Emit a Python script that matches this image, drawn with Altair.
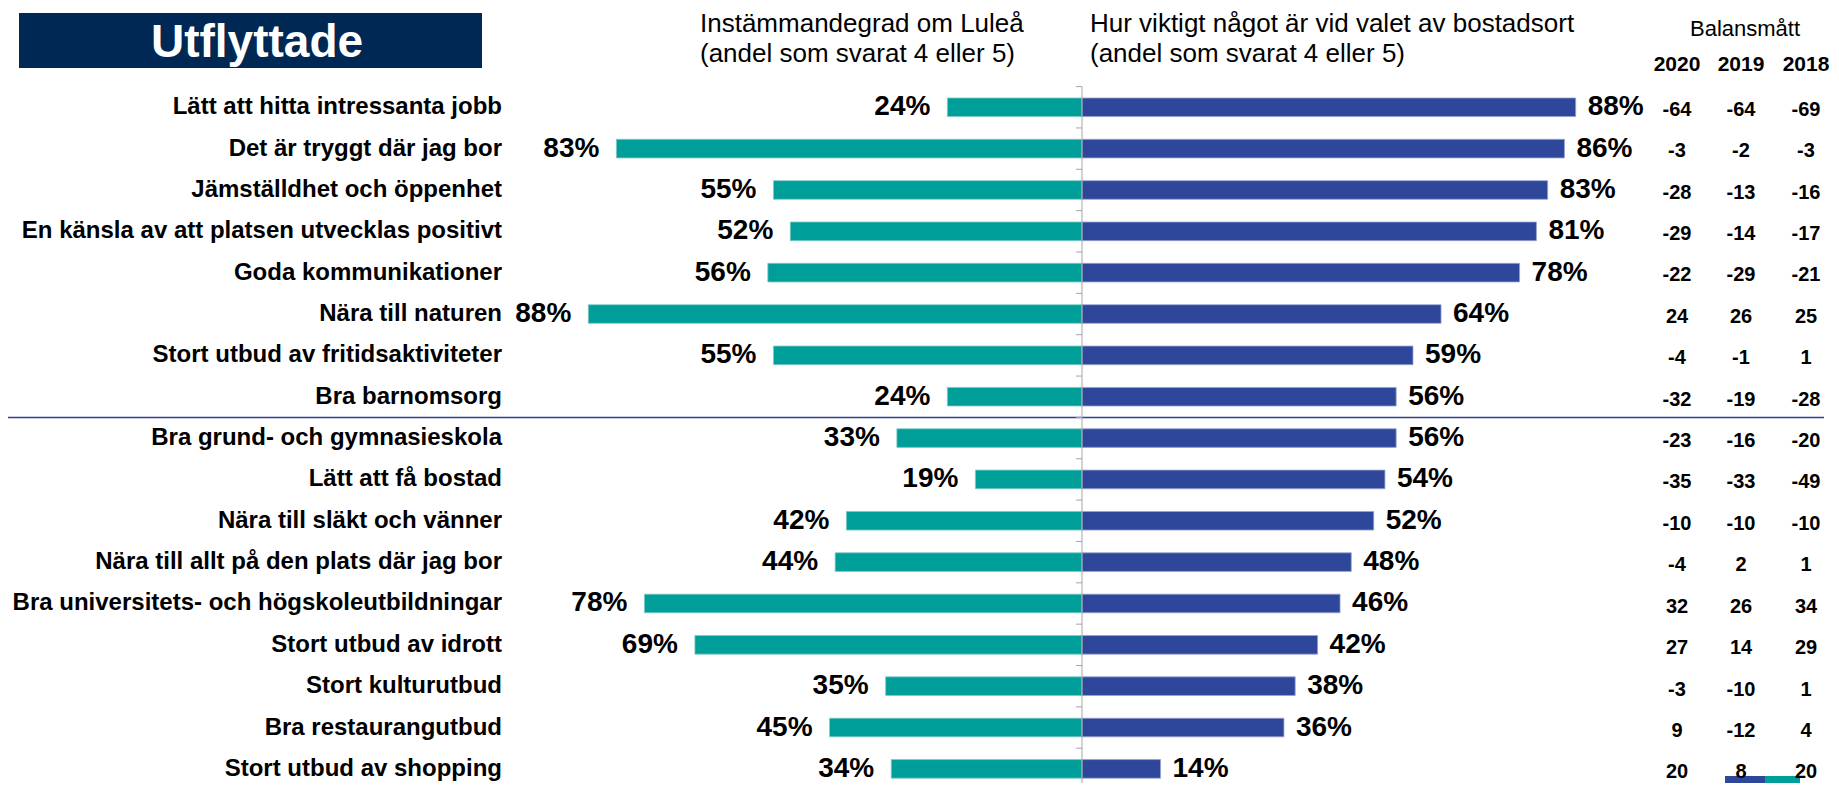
import altair as alt
import pandas as pd

categories = [
    "Lätt att hitta intressanta jobb",
    "Det är tryggt där jag bor",
    "Jämställdhet och öppenhet",
    "En känsla av att platsen utvecklas positivt ",
    "Goda kommunikationer",
    "Nära till naturen ",
    "Stort utbud av fritidsaktiviteter",
    "Bra barnomsorg ",
    "Bra grund- och gymnasieskola",
    "Lätt att få bostad",
    "Nära till släkt och vänner",
    "Nära till allt på den plats där jag bor ",
    "Bra universitets- och högskoleutbildningar",
    "Stort utbud av idrott",
    "Stort kulturutbud",
    "Bra restaurangutbud",
    "Stort utbud av shopping",
]
agree = [24, 83, 55, 52, 56, 88, 55, 24, 33, 19, 42, 44, 78, 69, 35, 45, 34]
importance = [88, 86, 83, 81, 78, 64, 59, 56, 56, 54, 52, 48, 46, 42, 38, 36, 14]
bal_2020 = [-64, -3, -28, -29, -22, 24, -4, -32, -23, -35, -10, -4, 32, 27, -3, 9, 20]
bal_2019 = [-64, -2, -13, -14, -29, 26, -1, -19, -16, -33, -10, 2, 26, 14, -10, -12, 8]
bal_2018 = [-69, -3, -16, -17, -21, 25, 1, -28, -20, -49, -10, 1, 34, 29, 1, 4, 20]
years = ["2020", "2019", "2018"]

title_text = "Utflyttade"
header_left = ["Instämmandegrad om Luleå", "(andel som svarat 4 eller 5)"]
header_right = ["Hur viktigt något är vid valet av bostadsort", "(andel som svarat 4 eller 5)"]
balance_title = "Balansmått"

FONT = "Liberation Sans"
TEAL = "#009E98"
BLUE = "#2F479B"
NAVY = "#002855"
GRAY = "#A6A6A6"

n = len(categories)
df = pd.DataFrame({
    "cat": categories,
    "idx": list(range(n)),
    "agree": agree,
    "imp": importance,
    "b2020": bal_2020,
    "b2019": bal_2019,
    "b2018": bal_2018,
})
bounds = pd.DataFrame({"b": [i - 0.5 for i in range(n + 1)]})
axis_span = pd.DataFrame({"lo": [-0.5], "hi": [n + 0.5]})

ROW = 41.35
xscale = alt.Scale(domain=[-100, 100], range=[513, 1635], nice=False, zero=False)
yscale = alt.Scale(domain=[-0.5, n - 0.5], range=[78.6, 78.6 + n * ROW], nice=False, zero=False)

base = alt.Chart(df).transform_calculate(
    neg="-datum.agree",
    zero="0",
    y0="datum.idx - 0.225",
    y1="datum.idx + 0.225",
    vy="datum.idx * 1.0015 + 0.06",
    agree_lbl="datum.agree + '%'",
    imp_lbl="datum.imp + '%'",
    s2020="'' + datum.b2020",
    s2019="'' + datum.b2019",
    s2018="'' + datum.b2018",
)

left_bars = base.mark_rect(color=TEAL, stroke="#7FC9C5", strokeWidth=0.8).encode(
    x=alt.X("neg:Q", scale=xscale, axis=None),
    x2="zero:Q",
    y=alt.Y("y0:Q", scale=yscale, axis=None),
    y2="y1:Q",
)
right_bars = base.mark_rect(color=BLUE, stroke="#98A3D0", strokeWidth=0.8).encode(
    x=alt.X("imp:Q", scale=xscale, axis=None),
    x2="zero:Q",
    y=alt.Y("y0:Q", scale=yscale, axis=None),
    y2="y1:Q",
)

axis_line = alt.Chart(axis_span).transform_calculate(zero="0").mark_rule(
    color=GRAY, strokeWidth=1).encode(
    x=alt.X("zero:Q", scale=xscale, axis=None),
    y=alt.Y("lo:Q", scale=yscale, axis=None),
    y2="hi:Q",
)
axis_ticks = alt.Chart(bounds).transform_calculate(zero="0").mark_rule(
    color=GRAY, strokeWidth=1, x2Offset=-6).encode(
    x=alt.X("zero:Q", scale=xscale, axis=None),
    x2="zero:Q",
    y=alt.Y("b:Q", scale=yscale, axis=None),
)

left_lbl = base.mark_text(align="right", baseline="middle", dx=-17, fontSize=28,
                          fontWeight="bold", font=FONT, color="black").encode(
    x=alt.X("neg:Q", scale=xscale, axis=None),
    y=alt.Y("idx:Q", scale=yscale, axis=None),
    text="agree_lbl:N",
)
right_lbl = base.mark_text(align="left", baseline="middle", dx=12, fontSize=28,
                           fontWeight="bold", font=FONT, color="black").encode(
    x=alt.X("imp:Q", scale=xscale, axis=None),
    y=alt.Y("idx:Q", scale=yscale, axis=None),
    text="imp_lbl:N",
)
cat_lbl = base.mark_text(align="right", baseline="middle", fontSize=24,
                         fontWeight="bold", font=FONT, color="black").encode(
    x=alt.value(494),
    y=alt.Y("idx:Q", scale=yscale, axis=None),
    text="cat:N",
)

COLS = [1669, 1733, 1798]
bal_layers = []
for col, xpos in zip(["s2020", "s2019", "s2018"], COLS):
    bal_layers.append(base.mark_text(align="center", baseline="middle", fontSize=20,
                                     fontWeight="bold", font=FONT, color="black").encode(
        x=alt.value(xpos),
        y=alt.Y("vy:Q", scale=yscale, axis=None),
        text=f"{col}:N",
    ))

sep = alt.Chart(pd.DataFrame({"v": [n / 2 - 1]})).mark_rule(color="#2E3D98", strokeWidth=1.5).encode(
    y=alt.Y("v:Q", scale=yscale, axis=None),
    x=alt.value(0),
    x2=alt.value(1816),
)


def text_at(t, x, y, size, weight="normal", align="left", color="black"):
    return alt.Chart(pd.DataFrame({"t": [t]})).mark_text(
        align=align, baseline="middle", fontSize=size, fontWeight=weight,
        font=FONT, color=color).encode(x=alt.value(x), y=alt.value(y), text="t:N")


title_box = alt.Chart(pd.DataFrame({"t": [title_text]})).mark_rect(color=NAVY).encode(
    x=alt.value(11), x2=alt.value(474), y=alt.value(5), y2=alt.value(60))
title = text_at(title_text, 249, 35, 46, "bold", "center", "white")

headers = [
    text_at(header_left[0], 692, 16, 26),
    text_at(header_left[1], 692, 46, 26),
    text_at(header_right[0], 1082, 16, 26),
    text_at(header_right[1], 1082, 46, 26),
    text_at(balance_title, 1737, 21, 22, align="center"),
]
for yr, xpos in zip(years, COLS):
    headers.append(text_at(yr, xpos, 57, 21, "bold", "center"))

legend_bits = [
    alt.Chart(pd.DataFrame({"t": [0]})).mark_rect(color=BLUE).encode(
        x=alt.value(1717), x2=alt.value(1757), y=alt.value(768), y2=alt.value(775)),
    alt.Chart(pd.DataFrame({"t": [0]})).mark_rect(color=TEAL).encode(
        x=alt.value(1757), x2=alt.value(1792), y=alt.value(768), y2=alt.value(775)),
]

chart = alt.layer(
    title_box, title, *headers, sep, left_bars, right_bars, axis_line, axis_ticks,
    *legend_bits, left_lbl, right_lbl, cat_lbl, *bal_layers,
).properties(
    width=1823, height=775, padding=0, autosize="none",
).configure_view(stroke=None)

chart.save("out.html", embed_options={"renderer": "svg", "actions": False})
